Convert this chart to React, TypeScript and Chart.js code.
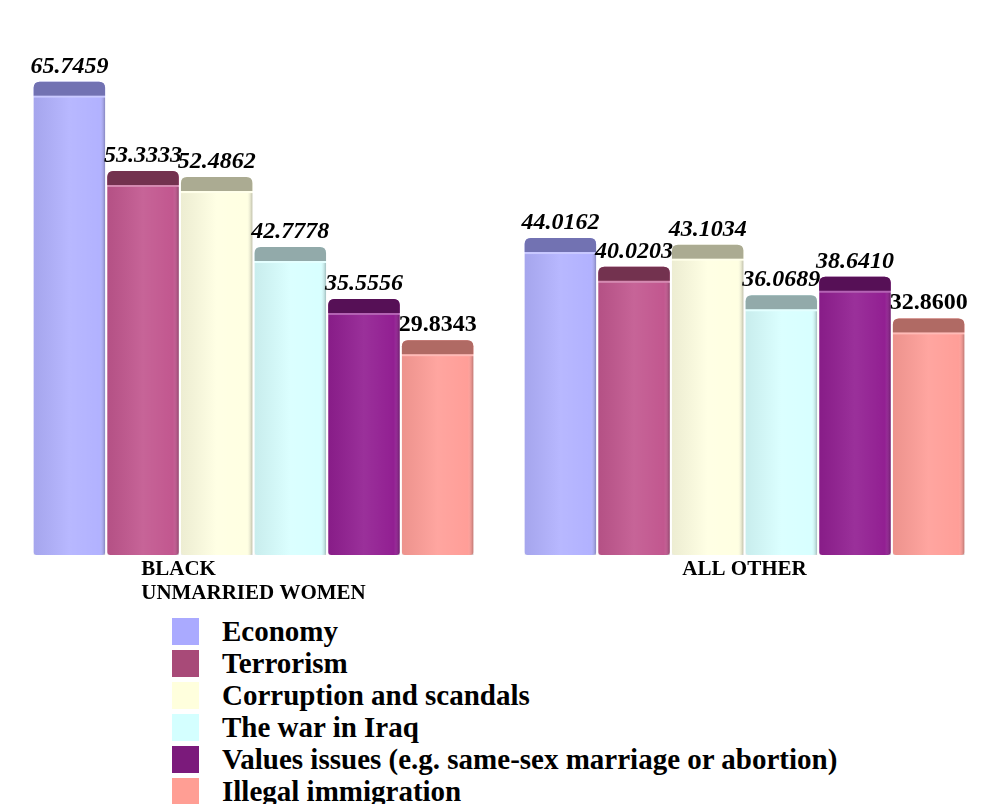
import React, { useEffect, useRef } from "react";
import { Chart, registerables } from "chart.js";

Chart.register(...registerables);

const categories: string[][] = [["BLACK", "UNMARRIED WOMEN"], ["ALL OTHER"]];
const seriesNames = [
  "Economy",
  "Terrorism",
  "Corruption and scandals",
  "The war in Iraq",
  "Values issues (e.g. same-sex marriage or abortion)",
  "Illegal immigration",
];
const economy = [65.7459, 44.0162];
const terrorism = [53.3333, 40.0203];
const corruption = [52.4862, 43.1034];
const iraq = [42.7778, 36.0689];
const values = [35.5556, 38.641];
const immigration = [29.8343, 32.86];
const seriesValues = [economy, terrorism, corruption, iraq, values, immigration];

const faceColors = ["#B2B2FF", "#C2578F", "#FFFFE2", "#D8FFFF", "#921F92", "#FF9E98"];
const capColors = ["#7272B2", "#73324F", "#ABAB92", "#92AAAA", "#561056", "#B06A64"];
const legendColors = ["#AAAAFF", "#A84A78", "#FFFFDD", "#D4FFFF", "#7B1A7B", "#FF9E94"];
const labelFormats = ["italic", "italic", "italic", "italic", "italic", "normal"];

const SERIF = '"Liberation Serif", "Times New Roman", serif';

const capPlugin = {
  id: "caps",
  afterDatasetsDraw(chart: any) {
    const ctx = chart.ctx;
    chart.data.datasets.forEach((ds: any, di: number) => {
      const meta = chart.getDatasetMeta(di);
      meta.data.forEach((el: any) => {
        const w = el.width;
        const left = el.x - w / 2;
        const top = el.y;
        const capH = 14;
        ctx.save();
        ctx.fillStyle = capColors[di];
        ctx.beginPath();
        const r = 6;
        ctx.moveTo(left + r, top);
        ctx.lineTo(left + w - r, top);
        ctx.quadraticCurveTo(left + w, top, left + w, top + r);
        ctx.lineTo(left + w, top + capH);
        ctx.lineTo(left, top + capH);
        ctx.lineTo(left, top + r);
        ctx.quadraticCurveTo(left, top, left + r, top);
        ctx.closePath();
        ctx.fill();
        ctx.fillStyle = "rgba(255,255,255,0.3)";
        ctx.fillRect(left, top + capH, w, 2);
        const g = ctx.createLinearGradient(left, 0, left + w, 0);
        g.addColorStop(0, "rgba(0,0,0,0.07)");
        g.addColorStop(0.5, "rgba(255,255,255,0.08)");
        g.addColorStop(0.92, "rgba(255,255,255,0.0)");
        g.addColorStop(1, "rgba(0,0,0,0.25)");
        ctx.fillStyle = g;
        ctx.fillRect(left, top + capH + 2, w, el.base - top - capH - 2);
        ctx.restore();
      });
    });
  },
};

const valueLabelPlugin = {
  id: "valueLabels",
  afterDraw(chart: any) {
    const ctx = chart.ctx;
    chart.data.datasets.forEach((ds: any, di: number) => {
      const meta = chart.getDatasetMeta(di);
      meta.data.forEach((el: any, i: number) => {
        const v = ds.data[i] as number;
        ctx.save();
        ctx.font = `${labelFormats[di]} bold 24px ${SERIF}`;
        ctx.fillStyle = "#000";
        ctx.textAlign = "center";
        ctx.textBaseline = "alphabetic";
        ctx.fillText(v.toFixed(4), el.x, el.y - 9);
        ctx.restore();
      });
    });
  },
};

const categoryLabelPlugin = {
  id: "categoryLabels",
  afterDraw(chart: any) {
    const ctx = chart.ctx;
    const xScale = chart.scales.x;
    const base = chart.chartArea.bottom;
    ctx.save();
    ctx.font = `bold 21px ${SERIF}`;
    ctx.fillStyle = "#000";
    ctx.textBaseline = "middle";
    ctx.textAlign = "left";
    categories.forEach((lines, i) => {
      const cx = xScale.getPixelForValue(i);
      const maxW = Math.max(...lines.map((l) => ctx.measureText(l).width));
      const x0 = cx - maxW / 2;
      lines.forEach((line, li) => {
        ctx.fillText(line, x0, base + 15 + li * 24);
      });
    });
    ctx.restore();
  },
};

export default function App() {
  const ref = useRef<HTMLCanvasElement | null>(null);
  useEffect(() => {
    if (!ref.current) return;
    const chart = new Chart(ref.current, {
      type: "bar",
      data: {
        labels: categories.map((c) => c.join(" ")),
        datasets: seriesNames.map((name, i) => ({
          label: name,
          data: seriesValues[i],
          backgroundColor: faceColors[i],
          borderWidth: 0,
          borderRadius: { topLeft: 6, topRight: 6, bottomLeft: 3, bottomRight: 3 },
          borderSkipped: false,
          barPercentage: 0.97,
          categoryPercentage: 0.9,
        })),
      },
      options: {
        responsive: false,
        animation: false,
        layout: { padding: { top: 43, bottom: 53, left: 0, right: 0 } },
        plugins: {
          legend: { display: false },
          tooltip: { enabled: false },
        },
        scales: {
          x: { display: false },
          y: { display: false, min: 0, max: 70 },
        },
      },
      plugins: [capPlugin, valueLabelPlugin, categoryLabelPlugin],
    });
    return () => chart.destroy();
  }, []);

  return (
    <div style={{ width: 974, fontFamily: SERIF }}>
      <canvas ref={ref} width={982} height={600} style={{ display: "block" }} />
      <div style={{ marginLeft: 164, marginTop: 7 }}>
        {seriesNames.map((name, i) => (
          <div key={name} style={{ display: "flex", alignItems: "center", height: 32 }}>
            <div style={{ width: 27, height: 27, background: legendColors[i], flex: "none" }} />
            <span
              style={{
                marginLeft: 23,
                fontSize: 29,
                fontWeight: "bold",
                lineHeight: "32px",
                whiteSpace: "nowrap",
              }}
            >
              {name}
            </span>
          </div>
        ))}
      </div>
    </div>
  );
}
